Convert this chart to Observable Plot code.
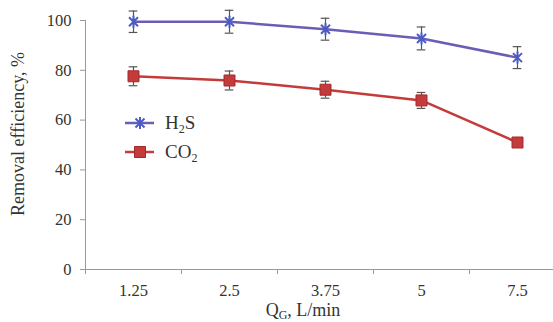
<!DOCTYPE html>
<html><head><meta charset="utf-8">
<script src="https://cdn.jsdelivr.net/npm/d3@7"></script>
<script src="https://cdn.jsdelivr.net/npm/@observablehq/plot@0.6"></script>
<style>
body{margin:0;background:#fff;}
#chart{position:relative;width:553px;height:322px;}
#chart svg, #chart svg text { font-family: "Liberation Serif", "Times New Roman", Times, serif !important; }
</style></head>
<body><div id="chart"></div>
<script>
const categories = ["1.25", "2.5", "3.75", "5", "7.5"];
const h2sValues = [99.5, 99.5, 96.5, 92.8, 85.1];
const h2sErrors = [4.3, 4.6, 4.4, 4.6, 4.4];
const co2Values = [77.6, 75.9, 72.2, 67.9, 51.0];
const co2Errors = [3.8, 3.8, 3.4, 3.2, 1.8];
const yTicks = [0, 20, 40, 60, 80, 100];

const h2s = categories.map((c, i) => ({i, v: h2sValues[i], e: h2sErrors[i]}));
const co2 = categories.map((c, i) => ({i, v: co2Values[i], e: co2Errors[i]}));
const boundaries = d3.range(categories.length + 1).map(k => k - 0.5);

const purple = "#6a5db5", blue = "#4b5cc8", red = "#c33b3b", redDark = "#a52a2a", errC = "#555";
const capW = 0.045;

// Excel-style star marker: an "x" with a vertical bar
const starSymbol = {
  draw(ctx, size) {
    const r = Math.sqrt(size / Math.PI);
    const d = r * 0.75;
    ctx.moveTo(0, -r); ctx.lineTo(0, r);
    ctx.moveTo(-d, -d); ctx.lineTo(d, d);
    ctx.moveTo(-d, d); ctx.lineTo(d, -d);
  }
};

const plot = Plot.plot({
  width: 553, height: 322,
  marginLeft: 85, marginRight: 0, marginTop: 20, marginBottom: 53,
  style: {fontFamily: '"Liberation Serif", serif', fontSize: "16.5px", color: "#333", background: "#fff"},
  x: {type: "linear", domain: [-0.5, 4.375]},
  y: {domain: [0, 100]},
  marks: [
    Plot.ruleY([0], {stroke: "#999", strokeWidth: 1}),
    Plot.ruleX([-0.5], {y1: 0, y2: 100, stroke: "#999", strokeWidth: 1}),
    Plot.axisY({ticks: yTicks, tickSize: 5, tickPadding: 9, stroke: "#999", label: null, fill: "#333", fontSize: 16.5}),
    Plot.axisX({ticks: boundaries, tickSize: 5, tickFormat: () => "", stroke: "#999", label: null}),
    Plot.axisX({ticks: d3.range(categories.length), tickSize: 0, tickPadding: 15, tickFormat: i => categories[i], label: null, fill: "#333", fontSize: 16.5}),
    // error bars
    Plot.ruleX(h2s, {x: "i", y1: d => d.v - d.e, y2: d => d.v + d.e, stroke: errC, strokeWidth: 1.2}),
    Plot.ruleY(h2s, {y: d => d.v - d.e, x1: d => d.i - capW, x2: d => d.i + capW, stroke: errC, strokeWidth: 1.2}),
    Plot.ruleY(h2s, {y: d => d.v + d.e, x1: d => d.i - capW, x2: d => d.i + capW, stroke: errC, strokeWidth: 1.2}),
    Plot.ruleX(co2, {x: "i", y1: d => d.v - d.e, y2: d => d.v + d.e, stroke: errC, strokeWidth: 1.2}),
    Plot.ruleY(co2, {y: d => d.v - d.e, x1: d => d.i - capW, x2: d => d.i + capW, stroke: errC, strokeWidth: 1.2}),
    Plot.ruleY(co2, {y: d => d.v + d.e, x1: d => d.i - capW, x2: d => d.i + capW, stroke: errC, strokeWidth: 1.2}),
    // lines
    Plot.line(h2s, {x: "i", y: "v", stroke: purple, strokeWidth: 2.5}),
    Plot.line(co2, {x: "i", y: "v", stroke: red, strokeWidth: 2.5}),
    // markers
    Plot.dot(h2s, {x: "i", y: "v", symbol: starSymbol, r: 6, stroke: blue, strokeWidth: 2}),
    Plot.dot(co2, {x: "i", y: "v", symbol: "square", r: 6.2, fill: red, stroke: redDark, strokeWidth: 1})
  ]
});
document.getElementById("chart").appendChild(plot);

const svg = d3.select(plot);
// y-axis label
svg.append("text")
  .attr("transform", "translate(24,134) rotate(-90)")
  .attr("text-anchor", "middle")
  .attr("font-size", 18).attr("fill", "#333")
  .text("Removal efficiency, %");
// x-axis label with subscript
const xl = svg.append("text").attr("x", 303).attr("y", 316).attr("text-anchor", "middle")
  .attr("font-size", 18).attr("fill", "#333");
xl.append("tspan").text("Q");
xl.append("tspan").attr("font-size", 12).attr("dy", 3).text("G");
xl.append("tspan").attr("dy", -3).text(", L/min");

// legend
const leg = svg.append("g");
const legItems = [
  {y: 123, color: purple, mark: "star", sub: "2", pre: "H", post: "S"},
  {y: 152, color: red, mark: "square", sub: "2", pre: "CO", post: ""}
];
legItems.forEach(it => {
  leg.append("line").attr("x1", 125).attr("x2", 154).attr("y1", it.y).attr("y2", it.y)
    .attr("stroke", it.color).attr("stroke-width", 2.5);
  if (it.mark === "star") {
    leg.append("path").attr("transform", `translate(140,${it.y})`)
      .attr("d", d3.symbol(starSymbol, Math.PI * 36)()).attr("stroke", blue).attr("stroke-width", 2).attr("fill", "none");
  } else {
    leg.append("path").attr("transform", `translate(140,${it.y})`)
      .attr("d", d3.symbol(d3.symbolSquare, 121)()).attr("fill", red).attr("stroke", redDark);
  }
  const t = leg.append("text").attr("x", 165).attr("y", it.y + 6).attr("text-anchor", "start")
    .attr("font-size", 19).attr("fill", "#333");
  t.append("tspan").text(it.pre);
  t.append("tspan").attr("font-size", 12).attr("dy", 4).text(it.sub);
  if (it.post) t.append("tspan").attr("dy", -4).text(it.post);
});
</script>
</body></html>
